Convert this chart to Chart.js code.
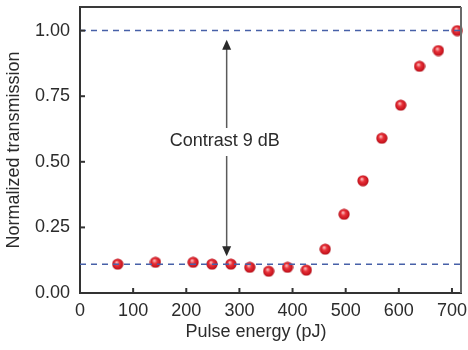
<!DOCTYPE html>
<html>
<head>
<meta charset="utf-8">
<script src="https://cdn.jsdelivr.net/npm/chart.js@4"></script>
<style>
  body { margin: 0; background: #fff; }
  #wrap { width: 468px; height: 350px; }
</style>
</head>
<body>
<div id="wrap"><canvas id="grafico" width="468" height="350"></canvas></div>
<script>
// datos
const pulseEnergy = [71, 142, 213, 248.5, 284, 319.5, 355, 390.5, 426, 461.5, 497, 532.5, 568, 603.5, 639, 674.5, 710];
const transmission = [0.11, 0.117, 0.117, 0.11, 0.11, 0.098, 0.083, 0.098, 0.087, 0.167, 0.30, 0.428, 0.59, 0.716, 0.864, 0.924, 1.0];
const xTicks = [0, 100, 200, 300, 400, 500, 600, 700];
const yTicks = [0, 0.25, 0.5, 0.75, 1.0];
const levelHigh = 1.0;
const levelLow = 0.11;
const contrastLabel = 'Contrast 9 dB';
const arrowX = 276;
const arrowTop = 0.965;
const arrowBottom = 0.14;
const labelY = 0.583;

const fontFam = '"Liberation Sans", Arial, Helvetica, sans-serif';
const textColor = '#2b2b2b';

// bolita roja con brillo
const dot = document.createElement('canvas');
dot.width = 12; dot.height = 12;
const dctx = dot.getContext('2d');
const grad = dctx.createRadialGradient(4.8, 4.2, 0.5, 6, 6, 6);
grad.addColorStop(0, '#fbb6b6');
grad.addColorStop(0.35, '#e8323a');
grad.addColorStop(0.8, '#c8141e');
grad.addColorStop(1, '#9a0c14');
dctx.fillStyle = grad;
dctx.beginPath();
dctx.arc(6, 6, 5.6, 0, Math.PI * 2);
dctx.fill();

const xMax = 717;

const extras = {
  id: 'extras',
  afterDraw(chart) {
    const ctx = chart.ctx;
    const a = chart.chartArea;
    const xs = chart.scales.x, ys = chart.scales.y;
    ctx.save();
    // marco arriba y derecha
    ctx.lineWidth = 2;
    ctx.strokeStyle = '#3a3a3a';
    ctx.beginPath();
    ctx.moveTo(a.left, a.top); ctx.lineTo(a.right, a.top);
    ctx.stroke();
    ctx.strokeStyle = '#6a6a6a';
    ctx.beginPath();
    ctx.moveTo(a.right, a.top); ctx.lineTo(a.right, a.bottom);
    ctx.stroke();
    // ticks hacia adentro
    ctx.strokeStyle = '#333';
    ctx.lineWidth = 2;
    xTicks.forEach(v => {
      const px = xs.getPixelForValue(v);
      ctx.beginPath(); ctx.moveTo(px, a.bottom); ctx.lineTo(px, a.bottom - 5); ctx.stroke();
    });
    yTicks.forEach(v => {
      const py = ys.getPixelForValue(v);
      ctx.beginPath(); ctx.moveTo(a.left, py); ctx.lineTo(a.left + 5, py); ctx.stroke();
    });
    // flecha de contraste
    const ax = xs.getPixelForValue(arrowX);
    const yTop = ys.getPixelForValue(arrowTop);
    const yBot = ys.getPixelForValue(arrowBottom);
    const yLab = ys.getPixelForValue(labelY);
    ctx.strokeStyle = '#5a5a5a';
    ctx.lineWidth = 1.5;
    ctx.beginPath();
    ctx.moveTo(ax, yTop + 8); ctx.lineTo(ax, yLab - 12);
    ctx.moveTo(ax, yLab + 16); ctx.lineTo(ax, yBot - 8);
    ctx.stroke();
    ctx.fillStyle = '#2a2a2a';
    ctx.beginPath();
    ctx.moveTo(ax, yTop); ctx.lineTo(ax - 4.5, yTop + 10); ctx.lineTo(ax + 4.5, yTop + 10); ctx.closePath();
    ctx.fill();
    ctx.beginPath();
    ctx.moveTo(ax, yBot); ctx.lineTo(ax - 4.5, yBot - 10); ctx.lineTo(ax + 4.5, yBot - 10); ctx.closePath();
    ctx.fill();
    ctx.fillStyle = textColor;
    ctx.font = '18px ' + fontFam;
    ctx.textAlign = 'center';
    ctx.textBaseline = 'middle';
    ctx.fillText(contrastLabel, ax - 2, yLab + 1);
    // titulo eje x
    ctx.fillText('Pulse energy (pJ)', 256, 332);
    ctx.restore();
  }
};

new Chart(document.getElementById('grafico'), {
  data: {
    datasets: [
      {
        type: 'line',
        data: [{x: 0, y: levelHigh}, {x: xMax, y: levelHigh}],
        borderColor: '#4760a8',
        borderWidth: 1.5,
        borderDash: [6, 5],
        pointRadius: 0
      },
      {
        type: 'line',
        data: [{x: 0, y: levelLow}, {x: xMax, y: levelLow}],
        borderColor: '#4760a8',
        borderWidth: 1.5,
        borderDash: [6, 5],
        pointRadius: 0
      },
      {
        type: 'scatter',
        data: pulseEnergy.map((x, i) => ({x: x, y: transmission[i]})),
        pointStyle: dot,
        pointRadius: 6,
        clip: false
      }
    ]
  },
  options: {
    responsive: false,
    animation: false,
    layout: { padding: { top: 5, right: 3, left: 0, bottom: 0 } },
    plugins: { legend: { display: false }, tooltip: { enabled: false } },
    scales: {
      x: {
        type: 'linear',
        min: 0,
        max: xMax,
        afterBuildTicks: s => { s.ticks = xTicks.map(v => ({value: v})); },
        afterFit: s => { s.height = 57; s.paddingLeft = 0; s.paddingRight = 0; },
        grid: { display: false, drawTicks: false },
        border: { display: true, color: '#333', width: 2 },
        ticks: { padding: 7, color: textColor, font: { family: fontFam, size: 18 } }
      },
      y: {
        min: 0,
        max: 1.09,
        afterBuildTicks: s => { s.ticks = yTicks.map(v => ({value: v})); },
        afterFit: s => { s.width = 80; s.paddingTop = 0; s.paddingBottom = 0; },
        grid: { display: false, drawTicks: false },
        border: { display: true, color: '#333', width: 2 },
        title: {
          display: true,
          text: 'Normalized transmission',
          color: textColor,
          font: { family: fontFam, size: 18 },
          padding: { top: 3, bottom: 0 }
        },
        ticks: {
          padding: 10,
          color: textColor,
          font: { family: fontFam, size: 18 },
          callback: v => v.toFixed(2)
        }
      }
    }
  },
  plugins: [extras]
});
</script>
</body>
</html>
